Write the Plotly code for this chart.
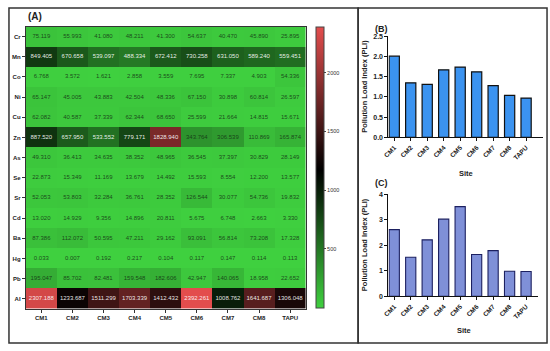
import plotly.graph_objects as go

elements = ["Cr", "Mn", "Co", "Ni", "Cu", "Zn", "As", "Se", "Sr", "Cd", "Ba", "Hg", "Pb", "Al"]
sites = ["CM1", "CM2", "CM3", "CM4", "CM5", "CM6", "CM7", "CM8", "TAPU"]

cr = [75.119, 55.993, 41.080, 48.211, 41.300, 54.637, 40.470, 45.890, 25.895]
mn = [849.405, 670.658, 539.097, 488.334, 672.412, 730.258, 631.050, 589.240, 559.451]
co = [6.768, 3.572, 1.621, 2.858, 3.559, 7.695, 7.337, 4.903, 54.336]
ni = [65.147, 45.005, 43.883, 42.504, 48.336, 67.150, 30.898, 60.814, 26.597]
cu = [62.082, 40.587, 37.339, 62.344, 68.650, 25.599, 21.664, 14.815, 15.671]
zn = [887.520, 657.950, 533.552, 779.171, 1828.940, 343.764, 306.539, 110.869, 165.874]
as_ = [49.310, 36.413, 34.635, 38.352, 48.965, 36.545, 37.397, 30.829, 28.149]
se = [22.873, 15.349, 11.169, 13.679, 14.492, 15.593, 8.554, 12.200, 13.577]
sr = [52.053, 53.803, 32.284, 36.761, 28.352, 126.544, 30.077, 54.736, 19.832]
cd = [13.020, 14.929, 9.356, 14.896, 20.811, 5.675, 6.748, 2.663, 3.330]
ba = [87.386, 112.072, 50.595, 47.211, 29.162, 93.091, 56.814, 73.208, 17.328]
hg = [0.033, 0.007, 0.192, 0.217, 0.104, 0.117, 0.147, 0.114, 0.113]
pb = [195.047, 85.702, 82.481, 159.548, 182.606, 42.947, 140.065, 18.958, 22.652]
al = [2307.188, 1233.687, 1511.299, 1703.339, 1412.432, 2392.261, 1008.762, 1641.687, 1306.048]

pli_b = [2.01, 1.35, 1.31, 1.67, 1.74, 1.62, 1.28, 1.04, 0.97]
pli_c = [2.61, 1.53, 2.21, 3.02, 3.51, 1.64, 1.79, 0.98, 0.97]

z = [cr, mn, co, ni, cu, zn, as_, se, sr, cd, ba, hg, pb, al]

W, H = 550, 351
def px(x): return x / W
def py(y): return 1 - y / H

FONT = "Liberation Sans, Arial, sans-serif"
bold = dict(family=FONT, weight="bold", color="#222")

fig = go.Figure()

fig.add_trace(go.Heatmap(
    z=z, x=sites, y=elements,
    zmin=0, zmax=max(al),
    colorscale=[[0, "#3fd03f"], [0.49, "#000000"], [1, "#e34d4d"]],
    xaxis="x", yaxis="y", hoverinfo="skip",
    colorbar=dict(
        x=px(313), xanchor="left", xpad=0, ypad=0, thickness=8, thicknessmode="pixels",
        y=py(166.5), yanchor="middle", len=287 / H, lenmode="fraction",
        outlinewidth=1, outlinecolor="#444",
        tickvals=[500, 1000, 1500, 2000], ticks="outside", ticklen=2,
        tickfont=dict(family=FONT, size=5.5, color="#333"),
    ),
))

# cell labels
tx, ty, tt, tc = [], [], [], []
for el, row in zip(elements, z):
    for s, v in zip(sites, row):
        tx.append(s); ty.append(el); tt.append(f"{v:.3f}")
        tc.append("rgba(255,255,255,0.9)" if v > 400 else "rgba(20,50,20,0.85)")
fig.add_trace(go.Scatter(
    x=tx, y=ty, text=tt, mode="text", xaxis="x", yaxis="y",
    textfont=dict(family=FONT, size=6, color=tc), hoverinfo="skip",
))

fig.add_trace(go.Bar(
    x=sites, y=pli_b, xaxis="x2", yaxis="y2", width=0.62,
    marker=dict(color="#3b93f0", line=dict(color="#111", width=1.2)),
))
fig.add_trace(go.Bar(
    x=sites, y=pli_c, xaxis="x3", yaxis="y3", width=0.62,
    marker=dict(color="#7f90d8", line=dict(color="#1c2060", width=1.1)),
))

axis_common = dict(showline=True, linecolor="#111", linewidth=1.2, ticks="outside",
                   ticklen=3, tickcolor="#111", showgrid=False, zeroline=False)

fig.update_layout(
    width=W, height=H, margin=dict(l=0, r=0, t=0, b=0),
    paper_bgcolor="white", plot_bgcolor="white", showlegend=False,
    font=dict(family=FONT),
    xaxis=dict(domain=[px(20), px(303)], anchor="y", range=[-0.5, len(sites) - 0.5],
               showline=True, linecolor="#333",
               linewidth=1, mirror=True, ticks="outside", ticklen=3, tickcolor="#333",
               tickfont=dict(size=6, **bold), showgrid=False, zeroline=False),
    yaxis=dict(domain=[py(311), py(23)], anchor="x", range=[len(elements) - 0.5, -0.5],
               showline=True,
               linecolor="#333", linewidth=1, mirror=True, ticks="outside", ticklen=3,
               tickcolor="#333", tickfont=dict(size=6, **bold), showgrid=False, zeroline=False),
    xaxis2=dict(domain=[px(386.7), px(543)], anchor="y2", range=[-0.35, 9.03],
                tickangle=-45, tickfont=dict(size=6.5, **bold), **axis_common),
    yaxis2=dict(domain=[py(136), py(33)], anchor="x2", range=[0, 2.5], dtick=0.5,
                tickformat=".1f", tickfont=dict(size=7, **bold), **axis_common),
    xaxis3=dict(domain=[px(386.7), px(538.3)], anchor="y3", range=[-0.35, 8.75],
                tickangle=-45, tickfont=dict(size=6.5, **bold), **axis_common),
    yaxis3=dict(domain=[py(298.3), py(194)], anchor="x3", range=[0, 4], dtick=1,
                tickfont=dict(size=7, **bold), **axis_common),
)

ann = [
    dict(text="(A)", x=px(20), y=py(13), xanchor="left", yanchor="middle", font=dict(size=10, **bold)),
    dict(text="(B)", x=px(371), y=py(25), xanchor="left", yanchor="middle", font=dict(size=9, **bold)),
    dict(text="(C)", x=px(371), y=py(183), xanchor="left", yanchor="middle", font=dict(size=9, **bold)),
    dict(text="Site", x=px(465), y=py(173), xanchor="center", yanchor="middle", font=dict(size=7.5, **bold)),
    dict(text="Site", x=px(463), y=py(333), xanchor="center", yanchor="middle", font=dict(size=7.5, **bold)),
    dict(text="Pollution Load Index (PLI)", x=px(363), y=py(84.5), textangle=-90,
         xanchor="center", yanchor="middle", font=dict(size=7.5, **bold)),
    dict(text="Pollution Load Index (PLI)", x=px(362), y=py(246), textangle=-90,
         xanchor="center", yanchor="middle", font=dict(size=7.5, **bold)),
]
for a in ann:
    a.update(xref="paper", yref="paper", showarrow=False)
fig.update_layout(annotations=ann)

fig.update_layout(shapes=[
    dict(type="rect", xref="paper", yref="paper", x0=px(3), x1=px(356), y0=py(346), y1=py(4),
         line=dict(color="#333", width=1.5)),
    dict(type="rect", xref="paper", yref="paper", x0=px(356), x1=px(547), y0=py(346), y1=py(4),
         line=dict(color="#333", width=1.5)),
])

fig.write_html("out.html", config={"displayModeBar": False},
               post_script="document.body.style.margin='0';document.body.style.overflow='hidden';")
